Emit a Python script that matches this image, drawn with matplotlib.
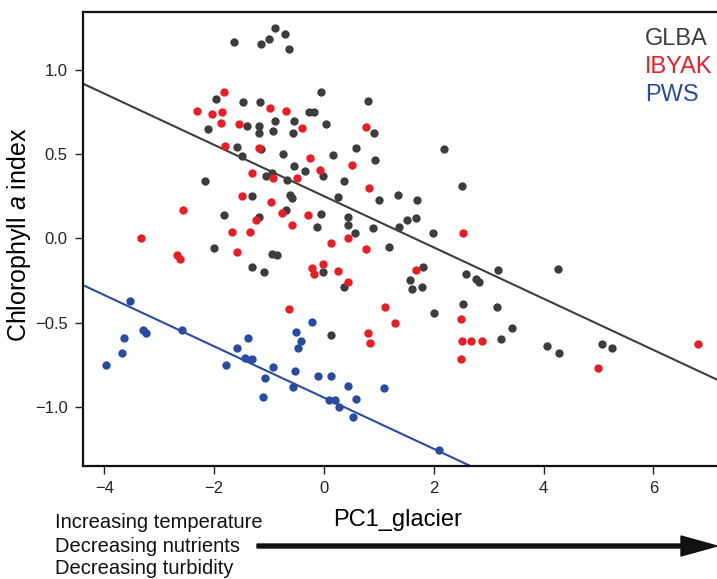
import matplotlib
matplotlib.use("Agg")
import matplotlib.pyplot as plt
import numpy as np
from matplotlib.patches import FancyArrow

plt.rcParams['font.family'] = ['Liberation Sans', 'DejaVu Sans']
plt.rcParams['mathtext.fontset'] = 'custom'
plt.rcParams['mathtext.it'] = 'Liberation Sans:italic'
plt.rcParams['mathtext.rm'] = 'Liberation Sans'

# ---- data ----
glba_x = [-1.64, -1.15, -1.00, -0.89, -0.71, -0.63, -1.97, -1.48, -1.16, -0.89, -0.55, -2.12,
          -1.41, -1.18, -1.19, -0.93, -0.57, -1.58, -1.15, -1.49, -0.75, -0.55, -0.95, -1.06,
          -0.67, -2.16, -0.62, -0.58, -1.32, -0.70, -1.19, -1.83,
          -0.05, 0.81, -0.27, -0.18, 0.04, 0.92, 0.17, 0.59, 0.93, 2.19, -0.35, -0.01, 0.36,
          2.51, 0.25, 1.01, 1.34, 1.69, -0.05, 0.44, 0.44, 1.52, 1.68, -0.13, 0.57, 0.90, 1.37,
          1.99,
          1.19, -0.02, 0.36, 1.81, 1.57, 1.61, 1.79, 2.59, 2.77, 2.82, 3.17, 2.01, 2.53, 3.16,
          0.12,
          -2.00, -1.31, -1.09, -0.95, -0.86,
          4.26, 3.42, 3.23, 4.07, 4.28, 5.06, 5.25]
glba_y = [1.17, 1.16, 1.19, 1.25, 1.22, 1.13, 0.83, 0.81, 0.81, 0.70, 0.70, 0.65,
          0.67, 0.67, 0.63, 0.64, 0.63, 0.545, 0.53, 0.49, 0.50, 0.43, 0.39, 0.37,
          0.35, 0.34, 0.26, 0.24, 0.25, 0.17, 0.13, 0.14,
          0.87, 0.82, 0.75, 0.755, 0.68, 0.63, 0.495, 0.54, 0.47, 0.53, 0.40, 0.37, 0.34,
          0.31, 0.245, 0.23, 0.26, 0.23, 0.145, 0.13, 0.08, 0.11, 0.12, 0.07, 0.03, 0.06, 0.07,
          0.03,
          -0.05, -0.20, -0.29, -0.17, -0.245, -0.30, -0.29, -0.21, -0.24, -0.26, -0.19, -0.445,
          -0.39, -0.41, -0.575,
          -0.055, -0.17, -0.20, -0.09, -0.10,
          -0.18, -0.53, -0.60, -0.64, -0.68, -0.63, -0.65]

ibyak_x = [-1.83, -2.31, -2.04, -1.86, -1.88, -1.54, -0.99, -0.70, -1.80, -1.18, -1.31, -0.93,
           -0.50, -1.49, -0.97, -0.77, -1.24, -2.56, -0.59, -1.67, -1.35, -3.33,
           -0.40, 0.76, -0.26, 0.51, -0.08, 0.82, -0.30, 0.43, 2.54,
           0.12, 0.76, -0.22, -0.19, -0.01, 0.26, 0.44, 1.68, -0.64, 1.11, 1.30, 0.80, 0.84,
           2.50, 2.51, 2.68, 2.88, 2.49,
           -2.67, -2.63, -1.58,
           4.99, 6.81]
ibyak_y = [0.87, 0.76, 0.74, 0.75, 0.69, 0.68, 0.775, 0.76, 0.55, 0.54, 0.39, 0.36,
           0.36, 0.25, 0.22, 0.15, 0.11, 0.17, 0.08, 0.04, 0.04, 0.00,
           0.66, 0.665, 0.48, 0.44, 0.41, 0.30, 0.14, 0.00, 0.035,
           -0.025, -0.065, -0.175, -0.21, -0.15, -0.195, -0.26, -0.19, -0.42, -0.41, -0.50,
           -0.56, -0.62, -0.48, -0.61, -0.61, -0.61, -0.72,
           -0.10, -0.12, -0.08,
           -0.77, -0.63]

pws_x = [-0.21, -0.51, -0.41, -0.47, -0.53, -0.56, -0.11, 0.13, 0.44, 0.10, 0.20, 0.28,
         0.58, 0.52, 1.09, 2.09,
         -3.53, -3.64, -3.68, -3.97, -3.30, -3.25, -2.59, -1.58, -1.39, -1.79, -1.44, -1.32,
         -1.07, -1.11, -0.92]
pws_y = [-0.495, -0.555, -0.61, -0.65, -0.79, -0.885, -0.82, -0.82, -0.88, -0.96, -0.96,
         -1.00, -0.955, -1.06, -0.89, -1.26,
         -0.37, -0.59, -0.68, -0.755, -0.545, -0.56, -0.545, -0.65, -0.59, -0.75, -0.71,
         -0.72, -0.83, -0.945, -0.765]

common_slope = -0.1525
glba_intercept = 0.252
pws_intercept = -0.947

x_ticks = [-4, -2, 0, 2, 4, 6]
y_ticks = [-1.0, -0.5, 0.0, 0.5, 1.0]
groups = ["GLBA", "IBYAK", "PWS"]
notes = ["Increasing temperature", "Decreasing nutrients", "Decreasing turbidity"]

c_glba = "#3d3d3d"
c_ibyak = "#ec1c24"
c_pws = "#2a4ba2"

W, H = 717, 579
fig = plt.figure(figsize=(W / 100, H / 100), dpi=100)
ax = fig.add_axes([83 / W, (H - 466) / H, (717 - 83) / W, (466 - 12) / H])

xlim = (-4.39, 7.16)
ylim = (-1.354, 1.348)
ax.set_xlim(*xlim)
ax.set_ylim(*ylim)

xx = np.array(xlim)
ax.plot(xx, glba_intercept + common_slope * xx, color=c_glba, lw=1.5, zorder=2)
ax.plot(xx, pws_intercept + common_slope * xx, color=c_pws, lw=1.5, zorder=2)

ms = 36
ax.scatter(glba_x, glba_y, s=ms, color=c_glba, linewidths=0, zorder=3)
ax.scatter(ibyak_x, ibyak_y, s=ms, color=c_ibyak, linewidths=0, zorder=3)
ax.scatter(pws_x, pws_y, s=ms, color=c_pws, linewidths=0, zorder=3)

ax.set_xticks(x_ticks)
ax.set_yticks(y_ticks)
ax.set_xticklabels([f"{t}".replace("-", "\u2212") for t in x_ticks])
ax.set_yticklabels([f"{t:.1f}".replace("-", "\u2212") for t in y_ticks])
ax.tick_params(axis='both', direction='out', length=6, width=1.0, labelsize=12, pad=5,
               colors='#222222')
for s in ['left', 'bottom', 'top']:
    ax.spines[s].set_linewidth(1.6)
    ax.spines[s].set_color('#111111')
ax.spines['right'].set_visible(False)

ax.set_ylabel("Chlorophyll $\\it{a}$ index", fontsize=18, va='center')
ax.yaxis.set_label_coords((19 - 83) / 634, (466 - 235) / 454)
ax.set_xlabel("PC1_glacier", fontsize=17, va='center')
ax.xaxis.set_label_coords((398 - 83) / 634, -(520 - 466) / 454)

# group labels
for name, col, yb in zip(groups, [c_glba, c_ibyak, c_pws], [45, 73, 101]):
    fig.text(645 / W, (H - yb) / H, name, color=col, fontsize=17, ha='left', va='baseline')

# notes
for txt, yc in zip(notes, [523, 546, 568]):
    fig.text(55 / W, (H - yc) / H, txt, fontsize=14.5, ha='left', va='center', color='#111111')

arrow = FancyArrow(2.57, (H - 546) / 100, 4.60, 0, width=0.04, head_width=0.2,
                   head_length=0.36, length_includes_head=True, color='#111111',
                   transform=fig.dpi_scale_trans)
fig.add_artist(arrow)

fig.savefig("out.png", dpi=100)
